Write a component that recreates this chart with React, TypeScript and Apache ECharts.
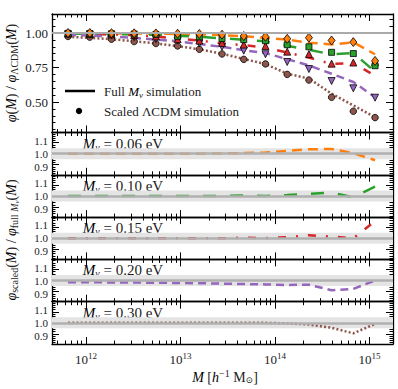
import React, { useEffect, useRef } from "react";
import * as echarts from "echarts";

// log10 of halo mass bin centres
const logMass = [11.81, 12.04, 12.27, 12.51, 12.74, 12.97, 13.2, 13.44, 13.67, 13.9, 14.13, 14.36, 14.6, 14.83, 15.06];

// Full M_nu simulation: phi(M)/phi_LCDM(M)
const fullM006 = [0.998, 0.998, 0.997, 0.996, 0.995, 0.993, 0.99, 0.985, 0.976, 0.965, 0.952, 0.93, 0.917, 0.932, 0.846];
const fullM010 = [0.996, 0.995, 0.993, 0.99, 0.987, 0.98, 0.972, 0.962, 0.95, 0.94, 0.908, 0.878, 0.845, 0.855, 0.72];
const fullM015 = [0.994, 0.992, 0.99, 0.985, 0.975, 0.96, 0.945, 0.925, 0.912, 0.895, 0.858, 0.822, 0.775, 0.783, 0.69];
const fullM020 = [0.985, 0.982, 0.975, 0.965, 0.952, 0.94, 0.92, 0.9, 0.875, 0.855, 0.81, 0.765, 0.705, 0.645, 0.535];
const fullM030 = [0.972, 0.965, 0.955, 0.94, 0.925, 0.905, 0.882, 0.85, 0.812, 0.775, 0.705, 0.67, 0.56, 0.475, 0.39];

// Scaled LCDM simulation: phi(M)/phi_LCDM(M)
const scaledM006 = [1.0, 1.0, 0.999, 0.998, 0.997, 0.995, 0.993, 0.988, 0.978, 0.973, 0.958, 0.966, 0.946, 0.934, 0.798];
const scaledM010 = [0.998, 0.997, 0.995, 0.993, 0.99, 0.976, 0.972, 0.96, 0.952, 0.944, 0.915, 0.9, 0.86, 0.851, 0.763];
const scaledM015 = [0.996, 0.994, 0.99, 0.985, 0.975, 0.955, 0.945, 0.928, 0.916, 0.906, 0.865, 0.847, 0.778, 0.786, 0.79];
const scaledM020 = [0.99, 0.988, 0.983, 0.97, 0.956, 0.944, 0.925, 0.9, 0.872, 0.846, 0.79, 0.739, 0.652, 0.599, 0.531];
const scaledM030 = [0.975, 0.97, 0.955, 0.938, 0.924, 0.906, 0.882, 0.848, 0.809, 0.776, 0.7, 0.659, 0.534, 0.433, 0.387];

// phi_scaled / phi_full
const ratioM006 = [1.0, 1.0, 1.0, 1.0, 1.0, 1.0, 1.0, 1.002, 1.005, 1.01, 1.025, 1.04, 1.042, 1.005, 0.94];
const ratioM010 = [1.0, 1.0, 1.0, 1.0, 1.0, 1.0, 1.0, 1.0, 1.005, 1.0, 1.008, 1.02, 1.03, 0.988, 1.085];
const ratioM015 = [1.0, 1.0, 1.0, 1.0, 1.0, 1.0, 1.0, 1.0, 1.005, 1.0, 1.01, 1.027, 1.015, 1.0, 1.155];
const ratioM020 = [0.985, 0.985, 0.983, 0.982, 0.98, 0.978, 0.976, 0.972, 0.968, 0.965, 0.96, 0.962, 0.912, 0.925, 1.0];
const ratioM030 = [1.0, 1.0, 1.0, 1.0, 1.0, 1.0, 1.0, 1.0, 1.0, 1.0, 0.995, 0.985, 0.955, 0.905, 0.99];

const neutrinoMasses = ["0.06", "0.10", "0.15", "0.20", "0.30"];
const xTickExponents = [12, 13, 14, 15];
const topYTicks = [0.5, 0.75, 1.0];
const subYTicks = [0.9, 1.0, 1.1];
const subYCentreLabel = [1.0];
const subYOuterLabels = [0.9, 1.1];

const fullSets = [fullM006, fullM010, fullM015, fullM020, fullM030];
const scaledSets = [scaledM006, scaledM010, scaledM015, scaledM020, scaledM030];
const ratioSets = [ratioM006, ratioM010, ratioM015, ratioM020, ratioM030];

const COLORS = ["#ff7f0e", "#2ca02c", "#d62728", "#9467bd", "#8c564b"];
const DASHES: number[][] = [[10, 6], [13, 14], [8, 10, 2, 10], [8, 5], [2, 2.2]];
const SYMBOLS = ["diamond", "rect", "triangle", "triangle", "circle"];
const SYMBOL_SIZES: any[] = [[7, 9], 6, 7, 7, 6.5];
const SYMBOL_ROT = [0, 0, 0, 180, 0];

const FONT = '"Liberation Serif", "DejaVu Serif", serif';
const X_MIN = 11.64;
const X_MAX = 15.25;

const GRID_LEFT = 52;
const GRID_W = 341;
const TOP = { top: 14, height: 118.5, min: 0.279, max: 1.1377 };
const SUB_TOPS = [132.5, 174.8, 217.1, 259.4, 301.7];
const SUB_H = 42.3;
const SUB_MIN = 0.808;
const SUB_MAX = 1.192;

function buildMinorX() {
  const out: number[] = [];
  for (let n = 11; n <= 15; n++) {
    for (let k = 2; k <= 9; k++) {
      const v = n + Math.log10(k);
      if (v > X_MIN && v < X_MAX) out.push(v);
    }
  }
  return out;
}

function range(a: number, b: number, step: number) {
  const out: number[] = [];
  for (let v = a; v <= b + 1e-9; v += step) out.push(Math.round(v * 1000) / 1000);
  return out;
}

const lineStyleAxis = { color: "#000", width: 1.3 };
const tickStyle = { color: "#000", width: 1 };

function xAxesFor(gridIndex: number, showLabels: boolean) {
  const minor = buildMinorX();
  const base = {
    type: "value",
    gridIndex,
    min: X_MIN,
    max: X_MAX,
    splitLine: { show: false },
  };
  const label = {
    show: showLabels,
    customValues: xTickExponents,
    hideOverlap: false,
    formatter: (v: number) => "10{sup|" + Math.round(v) + "}",
    fontFamily: FONT,
    fontSize: 13,
    color: "#222",
    margin: 7,
    rich: { sup: { fontFamily: FONT, fontSize: 9, padding: [0, 0, 8, 0], color: "#222" } },
  };
  return ["bottom", "top"].flatMap((pos) => [
    {
      ...base,
      position: pos,
      axisLine: { show: true, onZero: false, lineStyle: lineStyleAxis },
      axisTick: { show: true, inside: true, length: 7, customValues: xTickExponents, lineStyle: tickStyle },
      axisLabel: pos === "bottom" ? label : { show: false },
    },
    {
      ...base,
      position: pos,
      axisLine: { show: false, onZero: false },
      axisTick: { show: true, inside: true, length: 3.5, customValues: minor, lineStyle: tickStyle },
      axisLabel: { show: false },
    },
  ]);
}

function yLabel(values: number[], digits: number, size: number, spread: boolean) {
  return {
    show: true,
    customValues: values,
    hideOverlap: false,
    formatter: (v: number) => {
      const s = v.toFixed(digits);
      if (!spread) return s;
      return v > 1.0001 ? "{up|" + s + "}" : "{dn|" + s + "}";
    },
    fontFamily: FONT,
    fontSize: size,
    color: "#222",
    margin: 4,
    rich: {
      up: { fontFamily: FONT, fontSize: size, color: "#222", padding: [0, 0, 4, 0] },
      dn: { fontFamily: FONT, fontSize: size, color: "#222", padding: [4, 0, 0, 0] },
    },
  };
}

function yAxesFor(
  gridIndex: number,
  min: number,
  max: number,
  major: number[],
  minor: number[],
  labelsA: number[],
  labelsB: number[],
  digits: number,
  size: number
) {
  const base = { type: "value", gridIndex, min, max, splitLine: { show: false } };
  return ["left", "right"].flatMap((pos) => [
    {
      ...base,
      position: pos,
      axisLine: { show: true, onZero: false, lineStyle: lineStyleAxis },
      axisTick: { show: true, inside: true, length: 7, customValues: major, lineStyle: tickStyle },
      axisLabel: pos === "left" && labelsA.length ? yLabel(labelsA, digits, size, false) : { show: false },
    },
    {
      ...base,
      position: pos,
      axisLine: { show: false, onZero: false },
      axisTick: { show: true, inside: true, length: 3.5, customValues: minor, lineStyle: tickStyle },
      axisLabel: pos === "left" && labelsB.length ? yLabel(labelsB, digits, size, true) : { show: false },
    },
  ]);
}

function buildOption() {
  const grids: any[] = [{ left: GRID_LEFT, top: TOP.top, width: GRID_W, height: TOP.height }];
  SUB_TOPS.forEach((t) => grids.push({ left: GRID_LEFT, top: t, width: GRID_W, height: SUB_H }));

  const xAxes: any[] = [];
  const yAxes: any[] = [];
  grids.forEach((_, g) => {
    xAxes.push(...xAxesFor(g, g === grids.length - 1));
    if (g === 0) {
      yAxes.push(...yAxesFor(g, TOP.min, TOP.max, topYTicks, range(0.3, 1.1, 0.05), topYTicks, [], 2, 13));
    } else {
      yAxes.push(
        ...yAxesFor(g, SUB_MIN, SUB_MAX, subYTicks, range(0.82, 1.18, 0.02), subYCentreLabel, subYOuterLabels, 1, 11)
      );
    }
  });

  const series: any[] = [];
  series.push({
    type: "line",
    xAxisIndex: 0,
    yAxisIndex: 0,
    data: logMass.map((m) => [m, 1]),
    showSymbol: false,
    lineStyle: { opacity: 0 },
    z: 1,
    silent: true,
    markLine: {
      silent: true,
      symbol: "none",
      label: { show: false },
      lineStyle: { color: "#aaaaaa", width: 2, type: "solid" },
      data: [{ yAxis: 1 }],
    },
  });
  fullSets.forEach((arr, i) => {
    series.push({
      type: "line",
      xAxisIndex: 0,
      yAxisIndex: 0,
      data: logMass.map((m, j) => [m, arr[j]]),
      showSymbol: false,
      symbol: "none",
      lineStyle: { color: COLORS[i], width: 2.5, type: DASHES[i], cap: "butt" },
      z: 3,
    });
  });
  for (let i = scaledSets.length - 1; i >= 0; i--) {
    const arr = scaledSets[i];
    series.push({
      type: "scatter",
      xAxisIndex: 0,
      yAxisIndex: 0,
      data: logMass.map((m, j) => [m, arr[j]]),
      symbol: SYMBOLS[i],
      symbolSize: SYMBOL_SIZES[i],
      symbolRotate: SYMBOL_ROT[i],
      itemStyle: { color: COLORS[i], borderColor: "#000", borderWidth: 0.8, opacity: 1 },
      z: 4,
    });
  }
  ratioSets.forEach((arr, i) => {
    const g = i + 1;
    series.push({
      type: "line",
      xAxisIndex: 4 * g,
      yAxisIndex: 4 * g,
      data: logMass.map((m) => [m, 1]),
      showSymbol: false,
      lineStyle: { opacity: 0 },
      z: 1,
      silent: true,
      markArea: {
        silent: true,
        itemStyle: { color: "#e4e4e4" },
        data: [[{ yAxis: 0.95 }, { yAxis: 1.05 }]],
      },
      markLine: {
        silent: true,
        symbol: "none",
        label: { show: false },
        lineStyle: { color: "#b0b0b0", width: 2.5, type: "solid" },
        data: [{ yAxis: 1 }],
      },
    });
    series.push({
      type: "line",
      xAxisIndex: 4 * g,
      yAxisIndex: 4 * g,
      data: logMass.map((m, j) => [m, arr[j]]),
      showSymbol: false,
      symbol: "none",
      lineStyle: { color: COLORS[i], width: 2.5, type: DASHES[i], cap: "butt" },
      z: 3,
    });
  });

  const italic = { fontFamily: FONT, fontStyle: "italic", fontSize: 14, fill: "#000", color: "#000" };
  const graphic: any[] = [];

  graphic.push({
    type: "line",
    shape: { x1: 65, y1: 91, x2: 95, y2: 91 },
    style: { stroke: "#000", lineWidth: 2.5 },
  });
  graphic.push({ type: "circle", shape: { cx: 79, cy: 111, r: 3.2 }, style: { fill: "#000" } });
  graphic.push({
    type: "text",
    x: 104,
    y: 91,
    style: {
      text: "Full {i|M}{sub|ν} simulation",
      font: "13px " + FONT,
      fill: "#222",
      align: "left",
      verticalAlign: "middle",
      textAlign: "left",
      textVerticalAlign: "middle",
      rich: {
        i: { ...italic, fontSize: 13 },
        sub: { fontFamily: FONT, fontStyle: "italic", fontSize: 9, padding: [7, 0, 0, 0] },
      },
    },
  });
  graphic.push({
    type: "text",
    x: 104,
    y: 111,
    style: {
      text: "Scaled ΛCDM simulation",
      font: "13px " + FONT,
      fill: "#222",
      align: "left",
      verticalAlign: "middle",
      textAlign: "left",
      textVerticalAlign: "middle",
    },
  });

  neutrinoMasses.forEach((mv, i) => {
    graphic.push({
      type: "text",
      x: 123,
      y: SUB_TOPS[i] + 11,
      style: {
        text: "{i|M}{sub|ν} = " + mv + " eV",
        font: "15px " + FONT,
        fill: "#222",
        align: "center",
        verticalAlign: "middle",
        textAlign: "center",
        textVerticalAlign: "middle",
        rich: {
          i: { ...italic, fontSize: 15 },
          sub: { fontFamily: FONT, fontStyle: "italic", fontSize: 10, padding: [7, 0, 0, 0] },
        },
      },
    });
  });

  graphic.push({
    type: "text",
    x: 11,
    y: 73,
    rotation: Math.PI / 2,
    style: {
      text: "{i|φ}({i|M}) / {i|φ}{sub|ΛCDM}({i|M})",
      font: "14px " + FONT,
      fill: "#222",
      align: "center",
      verticalAlign: "middle",
      textAlign: "center",
      textVerticalAlign: "middle",
      rich: {
        i: { ...italic },
        sub: { fontFamily: FONT, fontSize: 10, padding: [7, 0, 0, 0] },
      },
    },
  });
  graphic.push({
    type: "text",
    x: 11,
    y: 240,
    rotation: Math.PI / 2,
    style: {
      text: "{i|φ}{sub|scaled}({i|M}) / {i|φ}{sub|full }{subi|M}{subsub|ν}({i|M})",
      font: "14px " + FONT,
      fill: "#222",
      align: "center",
      verticalAlign: "middle",
      textAlign: "center",
      textVerticalAlign: "middle",
      rich: {
        i: { ...italic },
        sub: { fontFamily: FONT, fontSize: 10, padding: [7, 0, 0, 0] },
        subi: { fontFamily: FONT, fontStyle: "italic", fontSize: 10, padding: [7, 0, 0, 0] },
        subsub: { fontFamily: FONT, fontStyle: "italic", fontSize: 7, padding: [11, 0, 0, 0] },
      },
    },
  });
  graphic.push({
    type: "text",
    x: 225,
    y: 377,
    style: {
      text: "{i|M} [{i|h}{sup|−1} M{sub|⊙}]",
      font: "14px " + FONT,
      fill: "#222",
      align: "center",
      verticalAlign: "middle",
      textAlign: "center",
      textVerticalAlign: "middle",
      rich: {
        i: { ...italic },
        sup: { fontFamily: FONT, fontSize: 10, padding: [0, 0, 8, 0] },
        sub: { fontFamily: FONT, fontSize: 9, padding: [6, 0, 0, 0] },
      },
    },
  });

  return {
    animation: false,
    backgroundColor: "#ffffff",
    grid: grids,
    xAxis: xAxes,
    yAxis: yAxes,
    series,
    graphic,
  };
}

export default function App() {
  const ref = useRef<HTMLDivElement>(null);
  useEffect(() => {
    if (!ref.current) return;
    const chart = echarts.init(ref.current, null, { renderer: "svg" });
    chart.setOption(buildOption() as any);
    return () => chart.dispose();
  }, []);
  return <div ref={ref} style={{ position: "fixed", left: 0, top: 0, width: 398, height: 389 }} />;
}
